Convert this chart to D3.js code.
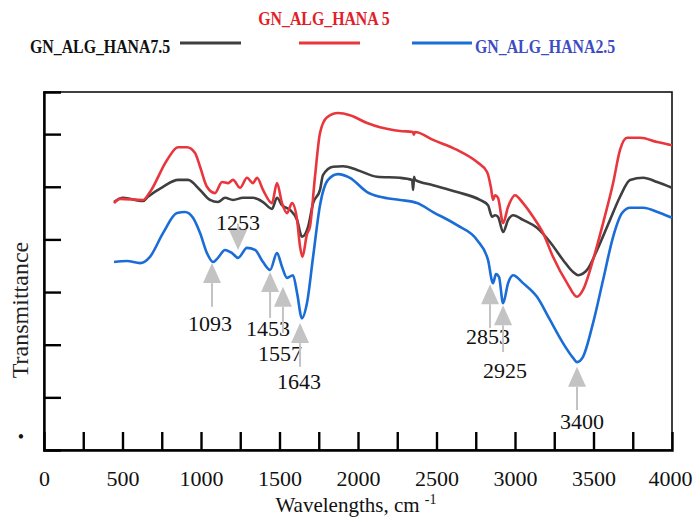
<!DOCTYPE html>
<html><head><meta charset="utf-8">
<script src="https://cdn.jsdelivr.net/npm/d3@7"></script>
<style>body{margin:0;background:#fff}svg{display:block}</style>
</head><body>
<svg id="c" width="693" height="522"></svg>
<script>
// ---- data (wavenumber cm-1, transmittance a.u.) ----
const seriesNames = ["GN_ALG_HANA7.5", "GN_ALG_HANA 5", "GN_ALG_HANA2.5"];
const hana75 = [[446,47.1],[503,47.9],[631,47.3],[662,48.1],[758,50.0],[854,51.3],[917,51.3],[994,49.4],[1057,47.5],[1108,47.1],[1153,47.9],[1204,47.5],[1268,47.9],[1331,47.9],[1395,47.1],[1452,45.8],[1484,47.9],[1516,46.5],[1567,45.6],[1612,43.7],[1643,40.5],[1682,42.4],[1714,46.9],[1758,49.4],[1777,52.2],[1841,53.8],[1905,53.9],[1994,53.2],[2121,51.9],[2268,51.7],[2345,51.3],[2351,49.4],[2357,51.9],[2363,51.3],[2478,50.3],[2631,49.0],[2777,47.5],[2828,46.5],[2854,44.3],[2873,44.6],[2892,44.3],[2924,41.4],[2956,43.7],[2988,44.6],[3051,43.7],[3140,42.2],[3223,39.5],[3306,36.1],[3370,33.8],[3402,33.2],[3459,34.2],[3523,38.0],[3605,43.7],[3669,48.1],[3733,51.3],[3816,51.7],[3905,50.9],[4000,49.8]];
const hana5 = [[446,46.9],[484,47.7],[631,47.5],[675,49.0],[784,55.1],[854,57.5],[911,57.5],[962,56.4],[994,53.8],[1038,50.0],[1089,48.8],[1134,50.9],[1172,50.7],[1204,51.3],[1249,49.8],[1293,51.7],[1331,50.7],[1357,51.7],[1395,49.4],[1452,46.9],[1484,50.7],[1516,46.9],[1548,45.0],[1580,46.9],[1612,43.7],[1631,38.6],[1646,36.7],[1675,41.0],[1694,42.4],[1726,51.9],[1758,60.2],[1803,63.2],[1873,64.0],[1949,63.6],[2058,62.1],[2140,61.3],[2268,60.6],[2350,60.4],[2355,59.9],[2363,60.4],[2478,58.9],[2631,57.0],[2758,54.7],[2822,52.8],[2847,49.8],[2860,47.5],[2873,48.4],[2892,47.9],[2924,43.1],[2956,46.2],[3000,48.4],[3051,46.9],[3115,44.3],[3179,41.2],[3242,36.7],[3332,31.7],[3395,29.1],[3433,30.4],[3497,36.1],[3561,43.1],[3625,50.7],[3669,57.0],[3714,59.3],[3797,59.3],[3905,58.5],[4000,57.9]];
const hana25 = [[446,35.7],[529,35.9],[612,35.5],[675,36.7],[758,41.2],[847,45.0],[898,45.2],[949,44.1],[994,41.2],[1038,37.4],[1077,35.7],[1108,36.5],[1153,38.0],[1198,37.4],[1236,36.5],[1293,38.4],[1344,38.0],[1395,35.7],[1440,34.2],[1484,37.4],[1516,34.8],[1548,32.7],[1586,33.2],[1612,29.8],[1643,25.0],[1675,27.9],[1714,36.7],[1758,46.5],[1809,51.3],[1873,52.4],[1949,51.7],[2058,49.0],[2140,48.1],[2268,47.5],[2376,46.9],[2478,45.2],[2631,42.7],[2758,39.9],[2828,36.1],[2860,31.7],[2879,33.4],[2898,32.9],[2924,27.9],[2956,31.7],[2988,33.2],[3051,31.7],[3140,29.1],[3223,24.7],[3306,20.3],[3370,17.5],[3395,16.7],[3433,17.7],[3497,24.1],[3561,32.3],[3625,40.5],[3682,45.0],[3733,46.0],[3816,46.0],[3924,45.0],[4000,44.1]];
const xTickLabels = [0,500,1000,1500,2000,2500,3000,3500,4000];
const xMinorTicks = [250,500,750,1000,1250,1500,1750,2000,2250,2500,2750,3000,3250,3500,3750];
const yTicks = [10,20,30,40,50,60];
// peak annotations: label, arrow wn, tip T, tail T, text wn, text T
const peakLabels = ["1093","1253","1453","1557","1643","2853","2925","3400"];
const peakArrowWn = [1070,1236,1440,1522,1631,2841,2924,3395];
const peakTipT = [35.5,38.0,33.8,31.0,24.1,31.5,27.5,15.8];
const peakTailT = [27.2,43.0,25.1,22.2,15.8,23.2,18.6,7.6];
const peakTextWn = [1057,1236,1427,1503,1624,2828,2937,3427];
const peakTextT = [22.6,41.8,21.7,16.9,11.6,20.1,13.7,4.0];

// ---- layout ----
const svg = d3.select("#c");
const L = 44, R = 672, T = 92, B = 450;
const x = d3.scaleLinear().domain([0,4000]).range([L,R]);
const y = d3.scaleLinear().domain([0,68]).range([B,T]);
const colors = ["#3f3f3f","#e8363c","#1a6dd6"];
const textColors = ["#111","#e3202a","#3d4cc2"];
const serif = "'Liberation Serif','Times New Roman',serif";

// frame
svg.append("rect").attr("x",L).attr("y",T).attr("width",R-L).attr("height",B-T)
  .attr("fill","none").attr("stroke","#111").attr("stroke-width",1.6);

// x axis ticks (inward)
const gx = svg.append("g").attr("transform",`translate(0,${B})`)
  .call(d3.axisBottom(x).tickValues(xMinorTicks).tickSize(-18).tickFormat(""));
gx.select(".domain").attr("stroke","#000").attr("stroke-width",2.4);
gx.selectAll(".tick line").attr("stroke","#000").attr("stroke-width",2.4);
// x labels
const gxl = svg.append("g").attr("transform",`translate(0,${B})`)
  .call(d3.axisBottom(x).tickValues(xTickLabels).tickSize(0).tickPadding(20).tickFormat(d3.format("d")));
gxl.select(".domain").remove();
gxl.selectAll("text").attr("font-family",serif).attr("font-size",22).attr("fill","#111");
gxl.selectAll("text").filter(d=>d===4000).attr("text-anchor","end").attr("x",692-x(4000));

// y axis ticks (inward)
const gy = svg.append("g").attr("transform",`translate(${L},0)`)
  .call(d3.axisLeft(y).tickValues(yTicks).tickSize(-17).tickFormat(""));
gy.select(".domain").attr("stroke","#000").attr("stroke-width",2.4);
gy.selectAll(".tick line").attr("stroke","#000").attr("stroke-width",2.4);

// axis titles
const xt = svg.append("text").attr("x",356).attr("y",512).attr("text-anchor","middle")
  .attr("font-family",serif).attr("font-size",21).attr("fill","#111");
xt.append("tspan").text("Wavelengths, cm ");
xt.append("tspan").attr("dy",-8).attr("font-size",14).text("-1");
svg.append("text").attr("transform","translate(28,310) rotate(-90)").attr("text-anchor","middle")
  .attr("font-family",serif).attr("font-size",24).attr("fill","#222").text("Transmittance");
svg.append("text").attr("x",21).attr("y",443).attr("text-anchor","middle")
  .attr("font-size",18).attr("fill","#111").text("•");

// annotations (drawn under curves)
const ann = svg.append("g");
peakLabels.forEach((lab,i)=>{
  const ax = x(peakArrowWn[i]), tip = y(peakTipT[i]), tail = y(peakTailT[i]);
  const dir = tail > tip ? 1 : -1; // 1: arrow points up
  const hh = 20, hw = 9;
  ann.append("line").attr("x1",ax).attr("x2",ax).attr("y1",tip+dir*hh).attr("y2",tail)
    .attr("stroke","#c3c3c3").attr("stroke-width",2);
  ann.append("path").attr("d",`M${ax},${tip} L${ax-hw},${tip+dir*hh} L${ax+hw},${tip+dir*hh} Z`)
    .attr("fill","#c3c3c3");
  ann.append("text").attr("x",x(peakTextWn[i])).attr("y",y(peakTextT[i])).attr("text-anchor","middle")
    .attr("font-family",serif).attr("font-size",22).attr("fill","#111").text(lab);
});

// curves
const line = d3.line().x(d=>x(d[0])).y(d=>y(d[1])).curve(d3.curveMonotoneX);
[hana75,hana5,hana25].forEach((s,i)=>{
  svg.append("path").datum(s).attr("d",line).attr("fill","none")
    .attr("stroke",colors[i]).attr("stroke-width",2.6).attr("stroke-linejoin","round");
});

// legend
const lg = svg.append("g").attr("font-family",serif).attr("font-weight","bold");
lg.append("text").attr("transform","translate(30,53) scale(0.88,1)").attr("font-size",18)
  .attr("fill",textColors[0]).text(seriesNames[0]);
lg.append("text").attr("transform","translate(324,25) scale(0.88,1)").attr("text-anchor","middle").attr("font-size",18)
  .attr("fill",textColors[1]).text(seriesNames[1]);
lg.append("text").attr("transform","translate(475,53) scale(0.88,1)").attr("font-size",18)
  .attr("fill",textColors[2]).text(seriesNames[2]);
const lx = [[180,241],[299,360],[412,472]];
lx.forEach((p,i)=>{
  lg.append("line").attr("x1",p[0]).attr("x2",p[1]).attr("y1",43).attr("y2",43)
    .attr("stroke",colors[i]).attr("stroke-width",3);
});
</script>
</body></html>
